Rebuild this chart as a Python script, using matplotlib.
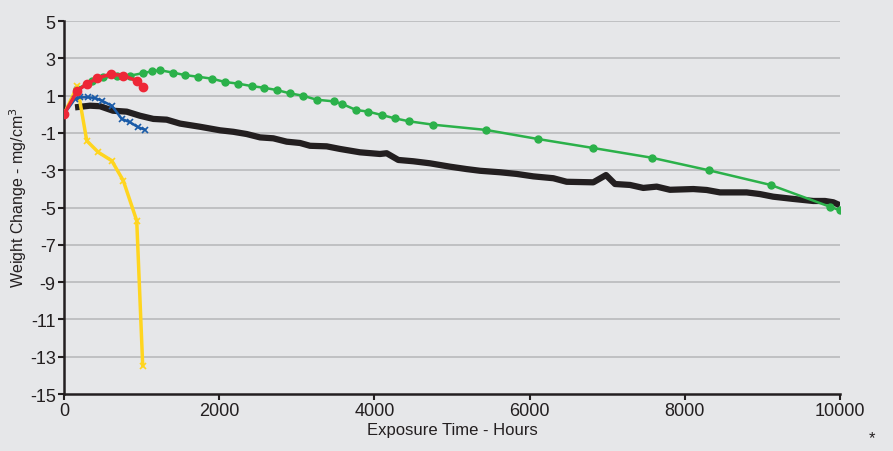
import numpy as np
from matplotlib import pyplot as plt
import matplotlib as mpl

plt.rcParams['font.family'] = ['Liberation Sans', 'DejaVu Sans']
plt.rcParams['axes.unicode_minus'] = False

# Weight change curves (hours, mg/cm^3)
green_t = [0, 167, 357, 506, 679, 851, 1022, 1130, 1237, 1409, 1559, 1731, 1903, 2075,
           2246, 2419, 2577, 2741, 2912, 3084, 3256, 3479, 3586, 3763, 3921, 4094, 4265,
           4450, 4759, 5438, 6112, 6821, 7573, 8316, 9107, 9871, 10000]
green_w = [0.0, 1.35, 1.77, 1.98, 2.03, 2.07, 2.21, 2.30, 2.36, 2.23, 2.10, 2.01, 1.91, 1.73,
           1.64, 1.51, 1.42, 1.30, 1.12, 0.99, 0.78, 0.69, 0.55, 0.23, 0.14, -0.04, -0.22,
           -0.38, -0.56, -0.84, -1.33, -1.81, -2.33, -3.01, -3.79, -4.96, -5.15]

red_t = [0, 171, 293, 429, 602, 764, 937, 1022]
red_w = [0.0, 1.26, 1.62, 1.93, 2.16, 2.07, 1.80, 1.45]

yellow_t = [0, 171, 293, 442, 615, 764, 937, 1014]
yellow_w = [0.0, 1.50, -1.42, -2.04, -2.49, -3.56, -5.71, -13.48]

blue_t = [0, 142, 206, 313, 400, 486, 615, 744, 851, 957, 1044]
blue_w = [0.0, 0.82, 0.91, 0.91, 0.87, 0.73, 0.46, -0.25, -0.43, -0.70, -0.83]

black_t = [142, 335, 464, 631, 808, 979, 1151, 1323, 1495, 1753, 2010, 2182, 2354, 2526,
           2697, 2870, 3041, 3170, 3385, 3557, 3814, 4072, 4158, 4308, 4501, 4716, 4974,
           5189, 5361, 5619, 5834, 6048, 6306, 6478, 6821, 6985, 7101, 7294, 7465, 7638,
           7809, 8110, 8282, 8454, 8798, 8969, 9140, 9398, 9656, 9807, 9914, 10000]
black_w = [0.37, 0.46, 0.43, 0.19, 0.14, -0.08, -0.25, -0.29, -0.50, -0.67, -0.86, -0.94,
           -1.06, -1.24, -1.29, -1.47, -1.54, -1.69, -1.72, -1.86, -2.04, -2.13, -2.09,
           -2.45, -2.52, -2.63, -2.81, -2.94, -3.03, -3.11, -3.20, -3.33, -3.43, -3.62,
           -3.65, -3.26, -3.74, -3.79, -3.95, -3.88, -4.05, -4.01, -4.06, -4.19, -4.19,
           -4.28, -4.42, -4.54, -4.65, -4.65, -4.72, -4.88]

xticks = [0, 2000, 4000, 6000, 8000, 10000]
yticks = [-15, -13, -11, -9, -7, -5, -3, -1, 1, 3, 5]

bg = '#e6e7e9'
fig = plt.figure(figsize=(8.93, 4.52), dpi=100, facecolor=bg)
ax = fig.add_axes([0.0717, 0.1261, 0.8689, 0.8252], facecolor=bg)

for y in yticks[1:]:
    ax.axhline(y, color='#bdbec0', lw=1.3, zorder=0)

ax.plot(black_t, black_w, color='#231f20', lw=4.5, solid_capstyle='butt', zorder=2)
ax.plot(green_t, green_w, color='#2bb14a', lw=1.8, marker='o', ms=5, zorder=3)
ax.plot(yellow_t, yellow_w, color='#ffd51f', lw=2.5, marker='x', ms=5, mew=1.2, zorder=3)
ax.plot(blue_t, blue_w, color='#1a5ba8', lw=1.8, marker='x', ms=5, mew=1.2, zorder=4)
ax.plot(red_t, red_w, color='#ee2737', lw=2.5, marker='o', ms=6, zorder=5)

ax.set_xlim(0, 10000)
ax.set_ylim(-15, 5)
ax.set_xticks(xticks)
ax.set_yticks(yticks)
ax.tick_params(axis='both', labelsize=13, colors='#231f20', length=4, width=1.5, pad=2)
for s in ['top', 'right']:
    ax.spines[s].set_visible(False)
for s in ['left', 'bottom']:
    ax.spines[s].set_linewidth(1.8)
    ax.spines[s].set_color('#231f20')

ax.set_xlabel('Exposure Time - Hours', fontsize=12, color='#231f20', labelpad=2)
ax.set_ylabel('Weight Change - mg/cm$^3$', fontsize=11.5, color='#231f20')
ax.yaxis.set_label_coords(-0.045, 0.53)
fig.text(0.976, 0.03, '*', fontsize=12, ha='center', va='center', color='#231f20')

fig.savefig('out.png', dpi=100, facecolor=bg)
